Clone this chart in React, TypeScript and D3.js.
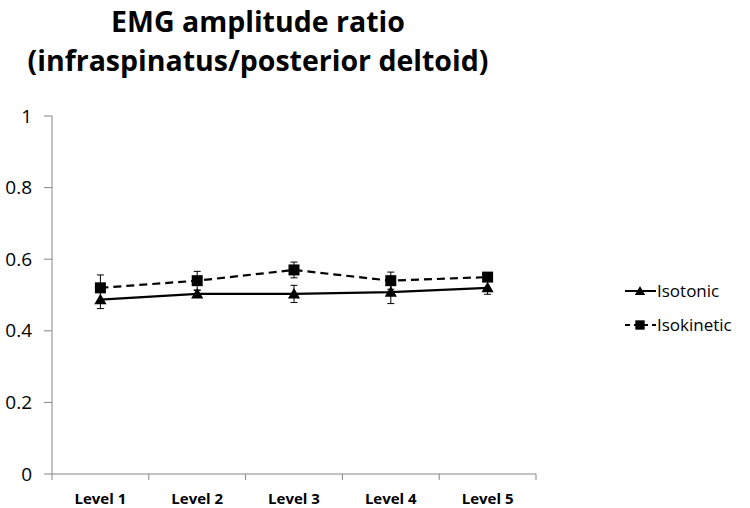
import React from "react";
import * as d3 from "d3";

const categories = ["Level 1", "Level 2", "Level 3", "Level 4", "Level 5"];
const isotonic = [0.487, 0.503, 0.503, 0.508, 0.52];
const isotonicErr = [0.025, 0.01, 0.024, 0.032, 0.018];
const isokinetic = [0.52, 0.54, 0.57, 0.54, 0.55];
const isokineticErr = [0.036, 0.026, 0.022, 0.024, 0.008];
const yTicks = [0, 0.2, 0.4, 0.6, 0.8, 1];
const titleLines = ["EMG amplitude ratio", "(infraspinatus/posterior deltoid)"];

const W = 750, H = 508;
const left = 52, right = 536, top = 116, bottom = 474;
const font = "'Open Sans', 'Noto Sans', sans-serif";

export default function App() {
  const x = d3.scaleBand().domain(categories).range([left, right]);
  const y = d3.scaleLinear().domain([0, 1]).range([bottom, top]);
  const cx = (c: string) => (x(c) as number) + x.bandwidth() / 2;
  const line = d3.line<number>().x((_, i) => cx(categories[i])).y((d) => y(d));
  const series = [
    { name: "Isotonic", vals: isotonic, err: isotonicErr, dash: undefined, marker: "tri" },
    { name: "Isokinetic", vals: isokinetic, err: isokineticErr, dash: "8,5", marker: "sq" },
  ];
  const tri = d3.symbol().type(d3.symbolTriangle).size(64)() as string;
  const marker = (m: string, px: number, py: number, s = 1) =>
    m === "tri" ? (
      <path d={tri} transform={`translate(${px},${py + 1}) scale(${s})`} fill="#000" />
    ) : (
      <rect x={px - 5.5 * s} y={py - 5.5 * s} width={11 * s} height={11 * s} fill="#000" />
    );
  const bandEdges = categories.map((c) => x(c) as number).concat([right]);
  return (
    <svg width={W} height={H} style={{ position: "absolute", left: 0, top: 0 }}>
      <rect width={W} height={H} fill="#fff" />
      {titleLines.map((t, i) => (
        <text key={t} x={258} y={32 + i * 39} textAnchor="middle" fontFamily={font} fontWeight="bold" fontSize={28.5} fill="#000">
          {t}
        </text>
      ))}
      <line x1={left} x2={left} y1={top} y2={bottom} stroke="#868686" />
      {yTicks.map((t) => (
        <g key={t}>
          <line x1={left - 8} x2={left} y1={y(t)} y2={y(t)} stroke="#868686" />
          <text x={left - 20} y={y(t)} dy="0.35em" textAnchor="end" fontFamily={font} fontSize={19} fill="#000">
            {t}
          </text>
        </g>
      ))}
      <line x1={left} x2={right} y1={bottom} y2={bottom} stroke="#868686" />
      {bandEdges.map((e, i) => (
        <line key={i} x1={e} x2={e} y1={bottom} y2={bottom + 6} stroke="#868686" />
      ))}
      {categories.map((c) => (
        <text key={c} x={cx(c)} y={bottom + 30} textAnchor="middle" fontFamily={font} fontWeight="bold" fontSize={15} fill="#000">
          {c}
        </text>
      ))}
      {series.map((s) => (
        <g key={s.name}>
          {s.vals.map((v, i) => {
            const px = cx(categories[i]);
            return (
              <g key={i}>
                <line x1={px} x2={px} y1={y(v - s.err[i])} y2={y(v + s.err[i])} stroke="#000" strokeWidth={1} />
                <line x1={px - 3.5} x2={px + 3.5} y1={y(v - s.err[i])} y2={y(v - s.err[i])} stroke="#000" />
                <line x1={px - 3.5} x2={px + 3.5} y1={y(v + s.err[i])} y2={y(v + s.err[i])} stroke="#000" />
              </g>
            );
          })}
          <path d={line(s.vals) as string} fill="none" stroke="#000" strokeWidth={2.2} strokeDasharray={s.dash} />
          {s.vals.map((v, i) => (
            <g key={i}>{marker(s.marker, cx(categories[i]), y(v))}</g>
          ))}
        </g>
      ))}
      {series.map((s, i) => {
        const ly = 291 + i * 34;
        return (
          <g key={s.name}>
            <line x1={625} x2={656} y1={ly} y2={ly} stroke="#000" strokeWidth={2} strokeDasharray={s.dash ? "5,4" : undefined} />
            {marker(s.marker, 640, ly, 0.85)}
            <text x={657} y={ly} dy="0.35em" fontFamily={font} fontSize={17} fill="#000">
              {s.name}
            </text>
          </g>
        );
      })}
    </svg>
  );
}
